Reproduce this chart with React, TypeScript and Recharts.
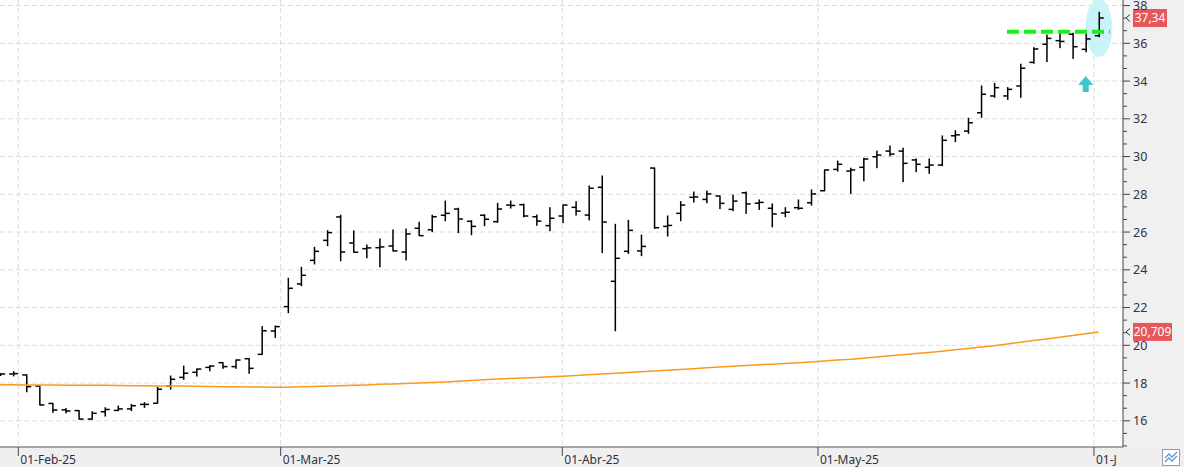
import React from 'react';
import {
  ComposedChart,
  Bar,
  Line,
  XAxis,
  YAxis,
  CartesianGrid,
  ReferenceLine,
  ReferenceDot,
} from 'recharts';

// Session index of the first bar (two sessions before 03-Feb-25)
const FIRST_INDEX = -2;

const openPrices = [
  18.48, 18.48, 18.43, 17.84, 16.92, 16.58, 16.54, 16.09, 16.48, 16.55,
  16.63, 16.87, 16.93, 17.84, 18.30, 18.57, 18.83, 19.08, 18.87, 19.29,
  19.52, 20.76, 22.05, 23.25, 24.50, 25.56, 26.80, 25.42, 25.12, 25.17,
  25.26, 24.94, 26.20, 26.12, 26.89, 27.22, 26.57, 26.89, 26.55, 27.43,
  27.45, 26.81, 26.34, 26.85, 27.31, 26.90, 28.37, 23.39, 24.98, 25.00,
  29.39, 26.30, 26.99, 27.84, 27.73, 27.91, 27.20, 28.08, 27.53, 27.26,
  27.01, 27.29, 27.55, 28.19, 29.32, 29.23, 29.43, 29.99, 30.29, 30.29,
  29.82, 29.43, 29.55, 31.10, 31.35, 32.32, 33.21, 33.21, 33.74, 34.99,
  35.95, 36.14, 36.48, 35.68, 36.40,
];
const highPrices = [
  18.50, 18.60, 18.43, 17.84, 16.92, 16.65, 16.54, 16.48, 16.69, 16.78,
  16.87, 16.96, 17.77, 18.37, 18.90, 18.74, 18.92, 19.08, 19.22, 19.29,
  20.99, 21.02, 23.55, 24.13, 25.19, 26.07, 26.89, 26.06, 25.31, 25.63,
  26.11, 26.16, 26.52, 26.89, 27.64, 27.26, 26.60, 26.92, 27.52, 27.64,
  27.48, 26.90, 27.29, 27.43, 27.61, 28.44, 28.97, 26.41, 26.62, 25.84,
  29.39, 26.85, 27.61, 28.12, 28.17, 27.91, 27.96, 28.12, 27.70, 27.49,
  27.29, 27.70, 28.23, 29.29, 29.76, 29.38, 29.91, 30.29, 30.56, 30.44,
  29.87, 29.87, 31.09, 31.37, 32.03, 33.74, 33.88, 33.65, 34.89, 35.77,
  36.44, 36.53, 36.53, 36.48, 37.64,
];
const lowPrices = [
  18.40, 18.38, 17.54, 16.84, 16.45, 16.42, 16.09, 16.09, 16.25, 16.54,
  16.54, 16.71, 16.93, 17.67, 18.20, 18.37, 18.65, 18.78, 18.78, 18.52,
  19.52, 20.42, 21.73, 23.16, 24.31, 25.28, 24.48, 24.93, 24.64, 24.16,
  25.00, 24.52, 25.81, 26.02, 26.60, 25.97, 25.86, 26.34, 26.52, 27.27,
  26.81, 26.36, 26.07, 26.50, 26.90, 26.64, 24.91, 20.77, 24.87, 24.75,
  26.20, 25.79, 26.60, 27.59, 27.55, 27.24, 27.13, 26.99, 27.20, 26.28,
  26.81, 27.20, 27.43, 28.19, 29.23, 28.05, 28.72, 29.41, 30.04, 28.67,
  29.20, 29.11, 29.52, 30.79, 31.23, 32.08, 33.14, 33.03, 33.14, 34.94,
  35.03, 35.77, 35.20, 35.55, 36.35,
];
const closePrices = [
  18.48, 18.50, 17.81, 16.84, 16.57, 16.52, 16.09, 16.40, 16.60, 16.63,
  16.80, 16.87, 17.67, 18.20, 18.52, 18.74, 18.90, 18.87, 19.22, 18.78,
  20.77, 20.99, 23.02, 23.71, 24.98, 25.97, 24.94, 24.93, 25.16, 25.21,
  25.00, 25.90, 25.81, 26.81, 26.99, 26.69, 26.30, 26.68, 27.22, 27.41,
  26.85, 26.58, 26.73, 27.43, 27.11, 28.32, 26.53, 24.61, 26.09, 25.24,
  26.23, 26.35, 27.43, 27.86, 28.02, 27.52, 27.64, 27.49, 27.57, 26.96,
  27.05, 27.26, 28.02, 29.29, 29.59, 29.29, 29.87, 30.08, 30.13, 29.64,
  29.59, 29.55, 30.86, 31.15, 31.79, 33.30, 33.65, 33.56, 34.68, 35.70,
  36.26, 36.10, 35.82, 36.23, 37.34,
];
const movingAverage = [
  17.91, 17.91, 17.90, 17.90, 17.90, 17.89, 17.89, 17.88, 17.88, 17.87,
  17.86, 17.86, 17.85, 17.85, 17.84, 17.83, 17.82, 17.81, 17.80, 17.79,
  17.79, 17.78, 17.78, 17.80, 17.82, 17.84, 17.86, 17.88, 17.90, 17.93,
  17.95, 17.97, 18.00, 18.03, 18.06, 18.09, 18.13, 18.17, 18.21, 18.24,
  18.27, 18.30, 18.33, 18.36, 18.40, 18.44, 18.48, 18.52, 18.56, 18.60,
  18.64, 18.68, 18.72, 18.76, 18.81, 18.85, 18.89, 18.93, 18.97, 19.00,
  19.04, 19.08, 19.12, 19.17, 19.22, 19.26, 19.32, 19.38, 19.44, 19.50,
  19.56, 19.62, 19.69, 19.76, 19.83, 19.91, 19.98, 20.07, 20.16, 20.25,
  20.34, 20.43, 20.52, 20.61, 20.709,
];

const monthTickPositions = [-0.61, 19.45, 40.98, 60.53, 81.63];
const monthTickLabels = ['01-Feb-25', '01-Mar-25', '01-Abr-25', '01-May-25', '01-Jun-25'];
const yMajorTicks = [16, 18, 20, 22, 24, 26, 28, 30, 32, 34, 36, 38];

const lastCloseValue = 37.34;
const lastCloseLabel = '37,34';
const lastAverageValue = 20.709;
const lastAverageLabel = '20,709';

const resistanceLevel = 36.61;
const resistanceStart = 74.98;
const resistanceEnd = 82.85;
const highlightX = 82;
const highlightY = 36.81;
const arrowX = 81;
const arrowY = 33.84;

const X_DOMAIN: [number, number] = [-2.011, 83.85];
const Y_DOMAIN: [number, number] = [14.612, 38.294];

const data = openPrices.map((o, k) => ({
  x: k + FIRST_INDEX,
  open: o,
  high: highPrices[k],
  low: lowPrices[k],
  close: closePrices[k],
  range: [lowPrices[k], highPrices[k]],
  ma: movingAverage[k],
}));

const yTicks: number[] = [];
yMajorTicks.forEach((m) => {
  yTicks.push(m);
  yTicks.push(+(m - 2 / 3).toFixed(4));
  yTicks.push(+(m - 4 / 3).toFixed(4));
});
yTicks.sort((a, b) => a - b);

const OhlcShape = (props: any) => {
  const { x, y, width, height, payload } = props;
  if (x == null || y == null || !payload) return null;
  const top = Math.min(y, y + height);
  const bottom = Math.max(y, y + height);
  const span = payload.high - payload.low;
  const toPx = (v: number) =>
    span > 0 ? bottom - ((v - payload.low) / span) * (bottom - top) : top;
  const cx = x + width / 2;
  const yo = toPx(payload.open);
  const yc = toPx(payload.close);
  const w = 1.5;
  return (
    <g fill="#000">
      <rect x={cx - w / 2} y={top - 0.5} width={w} height={Math.max(bottom - top, 1) + 1} />
      <rect x={cx - 4.5} y={yo - w / 2} width={4.5} height={w} />
      <rect x={cx} y={yc - w / 2} width={4.5} height={w} />
    </g>
  );
};

const YTick = (props: any) => {
  const { x, y, payload } = props;
  const v = payload.value;
  const isMajor = Math.abs(v - Math.round(v)) < 0.01 && Math.round(v) % 2 === 0;
  if (isMajor) {
    return (
      <g>
        <line x1={x} x2={x + 7} y1={y} y2={y} stroke="#444" strokeWidth={1} />
        <text x={x + 10} y={y} dy="0.36em" fontSize={12.5} fill="#33334a" textAnchor="start">
          {Math.round(v)}
        </text>
      </g>
    );
  }
  return <line x1={x} x2={x + 4} y1={y} y2={y} stroke="#444" strokeWidth={1} />;
};

const XTick = (props: any) => {
  const { x, y, payload } = props;
  const idx = monthTickPositions.findIndex((p) => Math.abs(p - payload.value) < 1e-6);
  const label = idx >= 0 ? monthTickLabels[idx] : '';
  const clipW = Math.max(0, 1117 - (x + 2));
  return (
    <g>
      <line x1={x} x2={x} y1={y} y2={y + 9} stroke="#444" strokeWidth={1} />
      <svg x={x + 2} y={y} width={clipW} height={22} overflow="hidden">
        <text x={0} y={17} fontSize={12} fill="#30303c">
          {label}
        </text>
      </svg>
    </g>
  );
};

const PriceTag = (props: any) => {
  const { viewBox, text, boxWidth } = props;
  if (!viewBox) return null;
  const right = viewBox.x + viewBox.width;
  const cy = viewBox.y;
  return (
    <g>
      <polyline
        points={`${right + 7},${cy - 3.5} ${right + 3},${cy} ${right + 7},${cy + 3.5}`}
        fill="none"
        stroke="#333"
        strokeWidth={1}
      />
      <rect x={right + 10} y={cy - 9} width={boxWidth} height={18} fill="#e4575a" />
      <text
        x={right + 10 + boxWidth / 2}
        y={cy}
        dy="0.36em"
        fontSize={12}
        fill="#ffffff"
        textAnchor="middle"
      >
        {text}
      </text>
    </g>
  );
};

const HighlightEllipse = (props: any) => {
  const { cx, cy } = props;
  if (cx == null || cy == null) return null;
  return <ellipse cx={cx} cy={cy} rx={13.5} ry={29} fill="#c8f3f9" />;
};

const UpArrow = (props: any) => {
  const { cx, cy } = props;
  if (cx == null || cy == null) return null;
  return (
    <polygon
      points={`${cx},${cy - 8} ${cx + 7.5},${cy + 1} ${cx + 3},${cy + 1} ${cx + 3},${cy + 8} ${cx - 3},${cy + 8} ${cx - 3},${cy + 1} ${cx - 7.5},${cy + 1}`}
      fill="#3cc8c8"
    />
  );
};

export default function App() {
  return (
    <div
      style={{
        position: 'absolute',
        left: 0,
        top: 0,
        width: 1184,
        height: 470,
        background: '#ffffff',
        fontFamily: '"Noto Sans", "Open Sans", sans-serif',
        overflow: 'hidden',
      }}
    >
      <div style={{ position: 'absolute', left: 0, top: 447, width: 1184, height: 20, background: '#efefef' }} />
      <div style={{ position: 'absolute', left: 1123, top: 0, width: 61, height: 447, background: '#f0f0f0' }} />
      <div style={{ position: 'absolute', left: 0, top: 0 }}>
        <ComposedChart
          width={1184}
          height={470}
          data={data}
          margin={{ top: 0, right: 0, bottom: 0, left: 0 }}
        >
          <CartesianGrid
            stroke="#dcdcdc"
            strokeDasharray="5 3"
            horizontalValues={yMajorTicks}
            verticalValues={monthTickPositions}
          />
          <XAxis
            dataKey="x"
            type="number"
            domain={X_DOMAIN}
            allowDataOverflow
            ticks={monthTickPositions}
            interval={0}
            height={23}
            tickSize={0}
            tickMargin={0}
            tickLine={false}
            axisLine={{ stroke: '#555' }}
            tick={<XTick />}
          />
          <YAxis
            orientation="right"
            type="number"
            domain={Y_DOMAIN}
            allowDataOverflow
            ticks={yTicks}
            interval={0}
            width={61}
            tickSize={0}
            tickMargin={0}
            tickLine={false}
            axisLine={{ stroke: '#444' }}
            tick={<YTick />}
          />
          <ReferenceDot
            x={highlightX}
            y={highlightY}
            r={13}
            shape={<HighlightEllipse />}
            ifOverflow="visible"
            zIndex={-50}
          />
          <Line
            type="linear"
            dataKey="ma"
            stroke="#fb9a1c"
            strokeWidth={1.5}
            dot={false}
            activeDot={false}
            isAnimationActive={false}
          />
          <Bar dataKey="range" barSize={4} shape={<OhlcShape />} isAnimationActive={false} />
          <ReferenceLine
            segment={[
              { x: resistanceStart, y: resistanceLevel },
              { x: resistanceEnd, y: resistanceLevel },
            ]}
            stroke="#1aee1a"
            strokeWidth={4}
            strokeDasharray="12 5"
            ifOverflow="visible"
            zIndex={600}
          />
          <ReferenceDot
            x={arrowX}
            y={arrowY}
            r={8}
            shape={<UpArrow />}
            ifOverflow="visible"
            zIndex={600}
          />
          <ReferenceLine
            y={lastCloseValue}
            stroke="none"
            ifOverflow="visible"
            label={<PriceTag text={lastCloseLabel} boxWidth={34} />}
            zIndex={700}
          />
          <ReferenceLine
            y={lastAverageValue}
            stroke="none"
            ifOverflow="visible"
            label={<PriceTag text={lastAverageLabel} boxWidth={39} />}
            zIndex={700}
          />
        </ComposedChart>
      </div>
      <svg
        style={{ position: 'absolute', left: 1162, top: 449 }}
        width={18}
        height={17}
      >
        <rect x={0.5} y={0.5} width={17} height={16} fill="#ffffff" stroke="#9a9a9a" />
        <polyline points="3,9 7,5 10,8 15,3" fill="none" stroke="#5b9bd5" strokeWidth={1.3} />
        <polyline points="3,13 7,9 10,12 15,7" fill="none" stroke="#5b9bd5" strokeWidth={1.3} />
      </svg>
    </div>
  );
}
